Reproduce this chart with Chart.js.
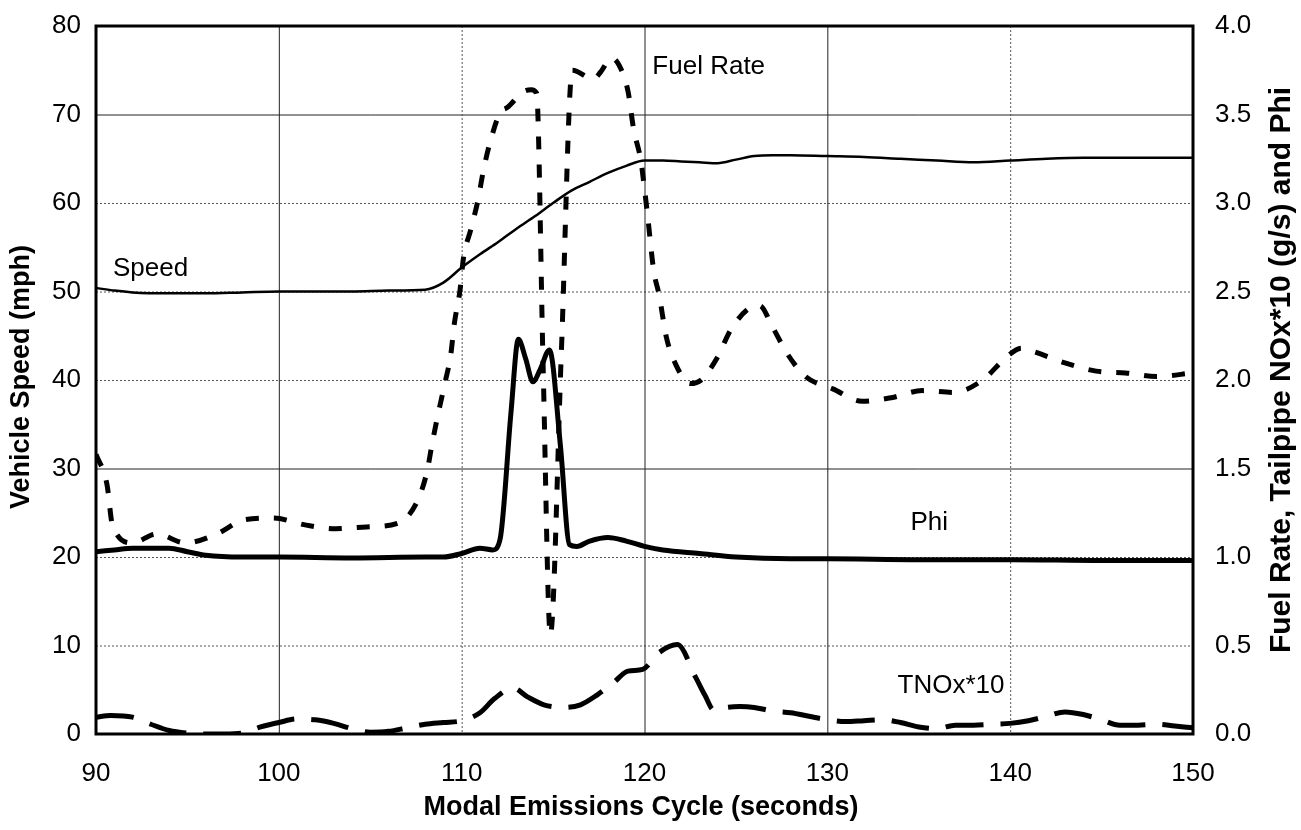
<!DOCTYPE html>
<html>
<head>
<meta charset="utf-8">
<title>Modal Emissions Cycle</title>
<script src="https://cdn.jsdelivr.net/npm/chart.js@4.4.1/dist/chart.umd.min.js"></script>
<style>
  html, body { margin: 0; padding: 0; background: #fff; }
  #wrap { width: 1301px; height: 830px; }
</style>
</head>
<body>
<div id="wrap"><canvas id="emissionsChart" width="1301" height="830"></canvas></div>
<script>
// vehicle speed (mph), left axis
const speedTime = [90, 91, 92, 94, 96, 98, 100, 102, 104, 106, 108, 109, 110, 111, 112, 113, 114, 115, 116, 117, 118, 119, 120,
  121, 122, 123, 124, 125, 126, 127, 128, 130, 132, 134, 136, 138, 140, 142, 144, 146, 148, 150];
const speedMph = [50.4, 50.1, 49.9, 49.8, 49.8, 49.9, 50.0, 50.0, 50.0, 50.1, 50.2, 51.0, 52.7, 54.2, 55.6, 57.1, 58.5, 60.0, 61.4, 62.4, 63.4, 64.2, 64.8,
  64.8, 64.7, 64.6, 64.5, 64.9, 65.3, 65.4, 65.4, 65.3, 65.2, 65.0, 64.8, 64.6, 64.8, 65.0, 65.1, 65.1, 65.1, 65.1];

// fuel rate (g/s), right axis
const fuelTime = [90.0, 90.6, 90.9, 92.0, 93.3, 94.9, 96.6, 98.1, 99.7, 101.5, 103.1, 104.8, 106.5, 107.5, 108.1, 108.4, 108.8,
  109.1, 109.4, 109.6, 109.9, 110.1, 110.5, 110.9, 111.2, 111.6, 112.1, 112.5, 113.4, 113.8, 114.1, 114.45, 114.85, 115.45,
  116.05, 117.2, 117.6, 118.2, 118.6, 119.1, 119.4, 119.8, 120.0, 120.2, 120.5, 120.8, 121.2, 121.7, 122.5, 123.1, 124.0,
  124.7, 125.8, 126.3, 127.0, 127.8, 128.8, 130.3, 131.9, 133.5, 135.2, 136.9, 138.5, 139.8, 140.6, 141.3, 142.9, 144.7,
  146.3, 148.0, 150.0];
const fuelRate = [1.58, 1.41, 1.18, 1.08, 1.13, 1.08, 1.13, 1.21, 1.22, 1.18, 1.16, 1.17, 1.19, 1.30, 1.48, 1.65, 1.85,
  1.99, 2.14, 2.32, 2.50, 2.69, 2.85, 3.02, 3.19, 3.36, 3.51, 3.54, 3.63, 3.64, 3.62, 2.10, 0.56, 2.15,
  3.75, 3.70, 3.74, 3.82, 3.78, 3.63, 3.42, 3.24, 3.08, 2.90, 2.62, 2.48, 2.24, 2.09, 1.98, 2.00, 2.13,
  2.28, 2.41, 2.42, 2.30, 2.15, 2.02, 1.95, 1.88, 1.90, 1.94, 1.93, 2.00, 2.13, 2.18, 2.16, 2.10, 2.05,
  2.04, 2.02, 2.04];

// equivalence ratio, right axis
const phiTime = [90, 91, 92, 93, 94, 95, 96, 98, 100, 104, 108, 109, 110, 111, 111.7, 112.1, 112.7, 113.1, 113.5, 113.9,
  114.3, 114.8, 115.4, 115.9, 116.3, 117, 118, 119, 120, 121, 123, 125, 128, 130, 135, 140, 145, 150];
const phiValue = [1.03, 1.04, 1.05, 1.05, 1.05, 1.03, 1.01, 1.00, 1.00, 0.995, 1.00, 1.00, 1.02, 1.05, 1.04, 1.10, 1.82, 2.23, 2.12, 1.99,
  2.06, 2.17, 1.63, 1.07, 1.06, 1.09, 1.11, 1.09, 1.06, 1.04, 1.02, 1.00, 0.99, 0.99, 0.985, 0.985, 0.98, 0.98];

// tailpipe NOx x10 (g/s), right axis
const noxTime = [90, 90.8, 92, 93, 94, 95, 96, 97, 98, 99, 100, 101, 102, 103, 104, 105, 106, 107, 108, 109, 110, 111, 111.8,
  112.8, 113.6, 114.5, 115.6, 116.5, 117.4, 118.3, 119.1, 119.9, 120.8, 121.8, 122.8, 123.3, 123.8, 124.5, 125.2, 126, 127,
  128, 129, 130, 131, 132, 133, 134, 135, 136, 137, 138, 139, 140, 141, 142, 143, 144, 145, 146, 147, 148, 149, 150];
const noxTimesTen = [0.095, 0.105, 0.095, 0.055, 0.02, 0.005, 0.0, 0.0, 0.005, 0.04, 0.065, 0.085, 0.08, 0.06, 0.03, 0.01, 0.015, 0.035, 0.055, 0.065, 0.075, 0.12, 0.2,
  0.26, 0.21, 0.165, 0.15, 0.165, 0.22, 0.29, 0.355, 0.365, 0.46, 0.505, 0.32, 0.22, 0.135, 0.15, 0.155, 0.15, 0.13,
  0.12, 0.1, 0.08, 0.07, 0.075, 0.08, 0.065, 0.04, 0.03, 0.05, 0.05, 0.055, 0.06, 0.075, 0.1, 0.125, 0.11, 0.08, 0.05, 0.05, 0.055, 0.045, 0.035];

const FONT = '"Liberation Sans", Arial, Helvetica, sans-serif';

// which grid values get a solid line (the rest are dotted)
const solidSpeedLines = [30, 70];
const solidTimeLines = [100, 120, 130];

// curve names written inside the plot, placed in data units
const curveLabels = [
  { text: 'Speed', x: 90.93, y: 51.8, axis: 'y' },
  { text: 'Fuel Rate', x: 120.43, y: 3.73, axis: 'y1' },
  { text: 'Phi', x: 134.55, y: 1.15, axis: 'y1' },
  { text: 'TNOx*10', x: 133.84, y: 0.23, axis: 'y1' }
];

function toPoints(xs, ys) {
  return xs.map((x, i) => ({ x: x, y: ys[i] }));
}

// fixed box sizes so the plot frame lands where it should
function fixWidth(w) {
  return s => { s.width = w; s.paddingTop = 0; s.paddingBottom = 0; };
}

const gridPlugin = {
  id: 'gridPlugin',
  beforeDatasetsDraw(chart) {
    const { ctx, chartArea, scales } = chart;
    ctx.save();
    ctx.lineWidth = 1;
    for (let v = 10; v < 80; v += 10) {
      const y = scales.y.getPixelForValue(v);
      const solid = solidSpeedLines.includes(v);
      ctx.strokeStyle = solid ? '#222' : '#555';
      ctx.setLineDash(solid ? [] : [2, 2]);
      ctx.beginPath();
      ctx.moveTo(chartArea.left, y + 0.5);
      ctx.lineTo(chartArea.right, y + 0.5);
      ctx.stroke();
    }
    for (let t = 100; t < 150; t += 10) {
      const x = scales.x.getPixelForValue(t);
      const solid = solidTimeLines.includes(t);
      ctx.strokeStyle = solid ? '#222' : '#555';
      ctx.setLineDash(solid ? [] : [2, 2]);
      ctx.beginPath();
      ctx.moveTo(x + 0.5, chartArea.top);
      ctx.lineTo(x + 0.5, chartArea.bottom);
      ctx.stroke();
    }
    ctx.restore();
  },
  afterDatasetsDraw(chart) {
    const { ctx, chartArea, scales } = chart;
    ctx.save();
    // plot frame
    ctx.strokeStyle = '#000';
    ctx.lineWidth = 3;
    ctx.strokeRect(chartArea.left, chartArea.top, chartArea.right - chartArea.left, chartArea.bottom - chartArea.top);

    ctx.fillStyle = '#000';
    ctx.font = '26px ' + FONT;
    ctx.textAlign = 'left';
    ctx.textBaseline = 'alphabetic';
    curveLabels.forEach(l => {
      ctx.fillText(l.text, scales.x.getPixelForValue(l.x), scales[l.axis].getPixelForValue(l.y));
    });

    // axis titles
    ctx.textAlign = 'center';
    ctx.textBaseline = 'middle';
    ctx.font = 'bold 27px ' + FONT;
    ctx.fillText('Modal Emissions Cycle (seconds)', 641, 808);

    ctx.save();
    ctx.translate(22, 377);
    ctx.rotate(-Math.PI / 2);
    ctx.fillText('Vehicle Speed (mph)', 0, 0);
    ctx.restore();

    ctx.save();
    ctx.font = 'bold 30px ' + FONT;
    ctx.translate(1282, 370);
    ctx.rotate(-Math.PI / 2);
    ctx.fillText('Fuel Rate, Tailpipe NOx*10 (g/s) and Phi', 0, 0);
    ctx.restore();

    ctx.restore();
  }
};

function lineSet(label, points, axis, width, dash) {
  return {
    label: label,
    data: points,
    yAxisID: axis,
    borderColor: '#000',
    borderWidth: width,
    borderDash: dash,
    borderCapStyle: 'butt',
    pointRadius: 0,
    fill: false,
    cubicInterpolationMode: 'monotone'
  };
}

const ctx = document.getElementById('emissionsChart').getContext('2d');

new Chart(ctx, {
  type: 'line',
  data: {
    datasets: [
      lineSet('Speed', toPoints(speedTime, speedMph), 'y', 2.5, []),
      lineSet('Fuel Rate', toPoints(fuelTime, fuelRate), 'y1', 5, [13, 15]),
      lineSet('Phi', toPoints(phiTime, phiValue), 'y1', 5, []),
      lineSet('TNOx*10', toPoints(noxTime, noxTimesTen), 'y1', 5, [38, 17])
    ]
  },
  options: {
    responsive: false,
    animation: false,
    layout: { padding: { top: 26, left: 0, right: 0, bottom: 0 } },
    plugins: {
      legend: { display: false },
      tooltip: { enabled: false }
    },
    scales: {
      x: {
        type: 'linear',
        min: 90,
        max: 150,
        grid: { display: false, drawTicks: false },
        border: { display: false },
        ticks: { stepSize: 10, padding: 24, color: '#000', font: { family: FONT, size: 26 } },
        afterFit: s => { s.height = 96; s.paddingLeft = 0; s.paddingRight = 0; }
      },
      y: {
        position: 'left',
        min: 0,
        max: 80,
        grid: { display: false, drawTicks: false },
        border: { display: false },
        ticks: { stepSize: 10, padding: 15, color: '#000', font: { family: FONT, size: 26 } },
        afterFit: fixWidth(96)
      },
      y1: {
        position: 'right',
        min: 0,
        max: 4,
        grid: { display: false, drawTicks: false },
        border: { display: false },
        ticks: { stepSize: 0.5, padding: 22, color: '#000', font: { family: FONT, size: 26 },
          callback: v => v.toFixed(1) },
        afterFit: fixWidth(108)
      }
    }
  },
  plugins: [gridPlugin]
});
</script>
</body>
</html>
